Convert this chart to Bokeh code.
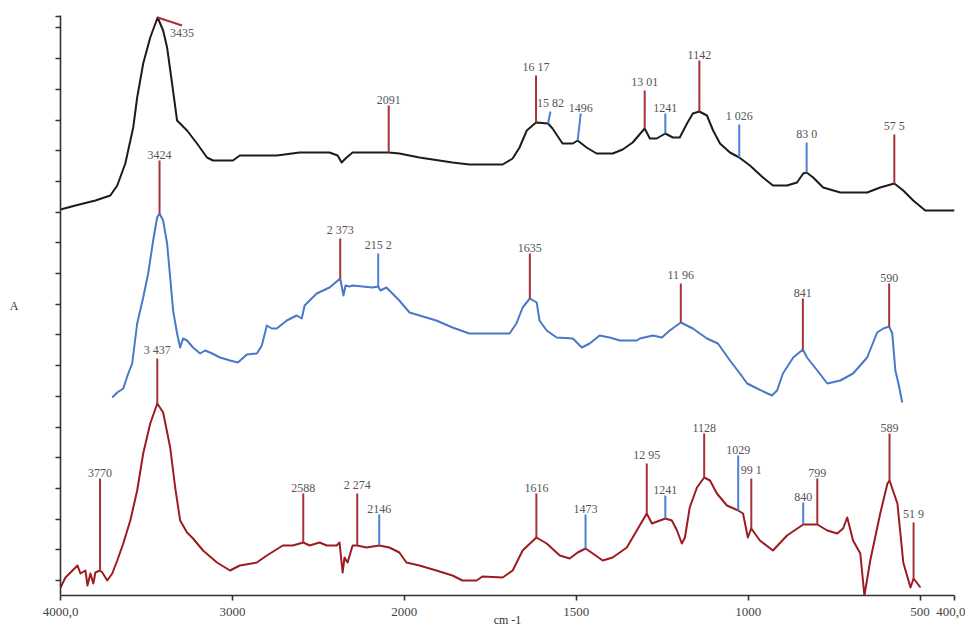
import numpy as np
from bokeh.plotting import figure
from bokeh.models import Range1d, FixedTicker, ColumnDataSource
from bokeh.core.properties import value
from bokeh.embed import file_html
from bokeh.resources import INLINE

# ---------------- data (wavenumber cm-1, absorbance A, offset stacked) ----------------
BLACK_WN = [4000, 3913, 3797, 3710, 3670, 3623, 3577, 3554, 3519, 3478, 3435, 3403, 3380, 3351,
            3322, 3264, 3206, 3148, 3113, 2997, 2957, 2742, 2609, 2435, 2388, 2365, 2336, 2301,
            2091, 2029, 1956, 1860, 1811, 1714, 1685, 1665, 1644, 1617, 1582, 1569, 1540, 1510,
            1496, 1470, 1441, 1394, 1365, 1336, 1301, 1286, 1266, 1241, 1219, 1199, 1178, 1161,
            1142, 1120, 1102, 1082, 1053, 1026, 995, 957, 928, 887, 858, 840, 830, 811, 782,
            732, 654, 616, 575, 549, 520, 485, 400]
BLACK_A = [3.86, 3.90, 3.95, 4.00, 4.10, 4.32, 4.68, 4.98, 5.32, 5.58, 5.78, 5.65, 5.48, 5.12,
           4.75, 4.65, 4.52, 4.38, 4.35, 4.35, 4.40, 4.40, 4.43, 4.43, 4.40, 4.33, 4.38, 4.43,
           4.43, 4.42, 4.38, 4.33, 4.31, 4.31, 4.37, 4.48, 4.65, 4.73, 4.72, 4.67, 4.52, 4.52,
           4.55, 4.48, 4.42, 4.42, 4.46, 4.53, 4.67, 4.57, 4.57, 4.62, 4.58, 4.58, 4.72, 4.82,
           4.84, 4.80, 4.65, 4.52, 4.43, 4.38, 4.30, 4.18, 4.10, 4.10, 4.13, 4.22, 4.23, 4.18,
           4.08, 4.03, 4.03, 4.08, 4.12, 4.05, 3.95, 3.85, 3.85]

BLUE_WN = [3699, 3670, 3635, 3606, 3583, 3554, 3519, 3490, 3461, 3438, 3424, 3403, 3380, 3362,
           3345, 3322, 3304, 3287, 3264, 3229, 3188, 3159, 3130, 3072, 3014, 2968, 2916, 2858,
           2829, 2800, 2771, 2742, 2684, 2626, 2597, 2580, 2510, 2435, 2373, 2354, 2342, 2319,
           2301, 2186, 2152, 2139, 2104, 2029, 1985, 1956, 1907, 1860, 1811, 1761, 1694, 1674,
           1656, 1635, 1615, 1607, 1586, 1557, 1510, 1484, 1461, 1432, 1403, 1373, 1324, 1315,
           1277, 1251, 1228, 1196, 1161, 1120, 1088, 1053, 1024, 1003, 974, 931, 916, 899, 869,
           841, 829, 799, 770, 732, 695, 654, 625, 607, 590, 581, 572, 563, 552]
BLUE_A = [1.98, 2.03, 2.07, 2.22, 2.32, 2.72, 2.98, 3.22, 3.55, 3.78, 3.82, 3.75, 3.52, 3.18,
          2.85, 2.62, 2.48, 2.57, 2.55, 2.48, 2.42, 2.45, 2.43, 2.38, 2.35, 2.33, 2.41, 2.42,
          2.50, 2.70, 2.67, 2.67, 2.75, 2.80, 2.77, 2.90, 3.02, 3.08, 3.17, 3.00, 3.10, 3.09,
          3.10, 3.08, 3.09, 3.05, 3.08, 2.95, 2.83, 2.80, 2.75, 2.68, 2.62, 2.62, 2.62, 2.72,
          2.88, 2.97, 2.93, 2.75, 2.65, 2.58, 2.57, 2.48, 2.52, 2.60, 2.58, 2.55, 2.55, 2.57,
          2.60, 2.58, 2.65, 2.73, 2.67, 2.57, 2.52, 2.35, 2.22, 2.12, 2.07, 2.00, 2.05, 2.22, 2.38,
          2.46, 2.38, 2.25, 2.12, 2.15, 2.22, 2.38, 2.63, 2.67, 2.69, 2.62, 2.25, 2.12, 1.93]

RED_WN = [4000, 3971, 3942, 3901, 3884, 3855, 3843, 3826, 3809, 3797, 3770, 3757, 3728, 3699,
          3670, 3635, 3594, 3554, 3519, 3478, 3437, 3403, 3362, 3333, 3304, 3264, 3229, 3171,
          3090, 3014, 2957, 2858, 2800, 2707, 2649, 2588, 2551, 2493, 2452, 2394, 2377, 2359,
          2348, 2330, 2301, 2274, 2220, 2146, 2087, 2029, 1994, 1956, 1907, 1860, 1831, 1790,
          1773, 1714, 1685, 1656, 1616, 1586, 1548, 1519, 1496, 1473, 1452, 1423, 1394, 1353,
          1324, 1295, 1280, 1241, 1222, 1207, 1193, 1184, 1170, 1149, 1128, 1111, 1091, 1062,
          1029, 1015, 1001, 991, 966, 928, 887, 840, 799, 770, 741, 724, 712, 695, 674, 662,
          645, 616, 595, 589, 566, 549, 528, 519, 499]
RED_A = [0.08, 0.18, 0.23, 0.30, 0.22, 0.25, 0.10, 0.22, 0.12, 0.23, 0.25, 0.23, 0.15, 0.22,
         0.35, 0.52, 0.75, 1.05, 1.42, 1.72, 1.92, 1.83, 1.48, 1.08, 0.75, 0.63, 0.57, 0.45,
         0.33, 0.25, 0.30, 0.33, 0.40, 0.50, 0.50, 0.53, 0.50, 0.53, 0.50, 0.50, 0.53, 0.23,
         0.38, 0.33, 0.50, 0.50, 0.48, 0.50, 0.48, 0.43, 0.33, 0.30, 0.25, 0.20, 0.15, 0.15,
         0.19, 0.18, 0.25, 0.45, 0.58, 0.52, 0.40, 0.37, 0.43, 0.47, 0.42, 0.35, 0.38, 0.48,
         0.65, 0.82, 0.72, 0.77, 0.75, 0.65, 0.52, 0.58, 0.88, 1.08, 1.18, 1.15, 1.02, 0.90,
         0.85, 0.82, 0.58, 0.67, 0.55, 0.45, 0.60, 0.71, 0.71, 0.65, 0.62, 0.67, 0.78, 0.55,
         0.42, 0.00, 0.35, 0.82, 1.12, 1.15, 0.92, 0.33, 0.08, 0.17, 0.08]

# peak annotations
BLACK_PEAKS = [3435, 2091, 1617, 1582, 1496, 1301, 1241, 1142, 1026, 830, 575]
BLACK_LABELS = ["3435", "2091", "16 17", "15 82", "1496", "13 01", "1241", "1142", "1 026", "83 0", "57 5"]
BLACK_KIND = ["r", "r", "r", "b", "b", "r", "b", "r", "b", "b", "r"]
BLACK_TIP_WN = [3293, 2091, 1617, 1575, 1487, 1301, 1241, 1142, 1026, 830, 575]
BLACK_TIP_A = [5.70, 4.90, 5.20, 4.84, 4.82, 5.05, 4.82, 5.35, 4.71, 4.53, 4.61]
BLACK_BELOW = [True, False, False, False, False, False, False, False, False, False, False]

BLUE_PEAKS = [3424, 2373, 2152, 1635, 1196, 841, 590]
BLUE_LABELS = ["3424", "2 373", "215 2", "1635", "11 96", "841", "590"]
BLUE_KIND = ["r", "r", "b", "r", "r", "r", "r"]
BLUE_TIP_WN = BLUE_PEAKS
BLUE_TIP_A = [4.35, 3.57, 3.42, 3.42, 3.12, 2.97, 3.12]
BLUE_BELOW = [False] * 7

RED_PEAKS = [3770, 3437, 2588, 2274, 2146, 1616, 1473, 1295, 1241, 1128, 1029, 991, 840, 799, 589, 519]
RED_LABELS = ["3770", "3 437", "2588", "2 274", "2146", "1616", "1473", "12 95", "1241", "1128",
              "1029", "99 1", "840", "799", "589", "51 9"]
RED_KIND = ["r", "r", "r", "r", "b", "r", "b", "r", "b", "r", "b", "r", "b", "r", "r", "r"]
RED_TIP_WN = RED_PEAKS
RED_TIP_A = [1.17, 2.37, 1.02, 1.02, 0.81, 1.02, 0.81, 1.32, 1.00, 1.62, 1.40, 1.17, 0.93, 1.17, 1.62, 0.73]
RED_BELOW = [False] * 16

X_TICKS = [4000, 3000, 2000, 1500, 1000, 500, 400]
X_TICK_LABELS = ["4000,0", "3000", "2000", "1500", "1000", "500", "400,0"]

# ---------------- styling ----------------
CURVE_COLORS = {"black": "#1c1c1c", "blue": "#4a78c8", "red": "#9c1c22"}
MARK_COLORS = {"r": "#a8323a", "b": "#4d80d4"}
FONT = "Liberation Serif"


def to_u(w):
    """Instrument-style wavenumber axis: scale doubles below 2000 cm-1."""
    w = np.asarray(w, dtype=float)
    return np.where(w >= 2000, 4000 - w, 2000 + 2 * (2000 - w))


p = figure(width=965, height=630, x_range=Range1d(0, 5200), y_range=Range1d(0, 5.8),
           output_backend="svg", toolbar_location=None,
           min_border_left=60, min_border_right=11, min_border_top=15, min_border_bottom=35)
p.grid.visible = False
p.outline_line_color = None
p.background_fill_color = "white"

# axes
p.xaxis.ticker = FixedTicker(ticks=[int(v) for v in to_u(X_TICKS)])
p.xaxis.major_label_overrides = {int(u): lab for u, lab in zip(to_u(X_TICKS), X_TICK_LABELS)}
p.yaxis.ticker = FixedTicker(ticks=[round(0.15 + 0.307 * k, 3) for k in range(19)] + [5.79])
for ax in (p.xaxis, p.yaxis):
    ax.axis_line_color = "#333333"
    ax.axis_line_width = 1.6
    ax.major_tick_line_color = "#333333"
    ax.major_tick_line_width = 1.6
    ax.major_tick_in = 0
    ax.major_tick_out = 5
    ax.minor_tick_line_color = None
    ax.axis_label_text_font = FONT
    ax.axis_label_text_font_style = "normal"
    ax.axis_label_text_color = "#333333"
    ax.axis_label_text_font_size = "12px"
p.xaxis.major_label_text_font = FONT
p.xaxis.major_label_text_font_size = "13px"
p.xaxis.major_label_text_color = "#444444"
p.xaxis.major_label_standoff = 7
p.xaxis.axis_label = "cm -1"
p.xaxis.axis_label_standoff = -6
p.yaxis.major_label_text_font_size = "0px"
p.yaxis.major_label_text_alpha = 0
p.yaxis.axis_label = "A"
p.yaxis.axis_label_orientation = "horizontal"
p.yaxis.axis_label_standoff = 37

spectra = [
    ("black", BLACK_WN, BLACK_A, BLACK_PEAKS, BLACK_LABELS, BLACK_KIND, BLACK_TIP_WN, BLACK_TIP_A, BLACK_BELOW),
    ("blue", BLUE_WN, BLUE_A, BLUE_PEAKS, BLUE_LABELS, BLUE_KIND, BLUE_TIP_WN, BLUE_TIP_A, BLUE_BELOW),
    ("red", RED_WN, RED_A, RED_PEAKS, RED_LABELS, RED_KIND, RED_TIP_WN, RED_TIP_A, RED_BELOW),
]

for name, wn, a, peaks, labels, kind, tip_wn, tip_a, below in spectra:
    p.line(to_u(wn), a, line_color=CURVE_COLORS[name], line_width=2, line_join="round")

for name, wn, a, peaks, labels, kind, tip_wn, tip_a, below in spectra:
    wn_arr = np.asarray(wn, float)
    base = np.interp(np.asarray(peaks, float), wn_arr[::-1], np.asarray(a, float)[::-1])
    seg = ColumnDataSource(dict(x0=to_u(peaks), y0=base, x1=to_u(tip_wn), y1=tip_a,
                                c=[MARK_COLORS[k] for k in kind]))
    p.segment(x0="x0", y0="y0", x1="x1", y1="y1", line_color="c", line_width=2, source=seg)
    up = [i for i in range(len(peaks)) if not below[i]]
    dn = [i for i in range(len(peaks)) if below[i]]
    for idx, baseline, dy in ((up, "bottom", 0.02), (dn, "top", -0.03)):
        if not idx:
            continue
        src = ColumnDataSource(dict(x=to_u([tip_wn[i] for i in idx]),
                                    y=[tip_a[i] + dy for i in idx],
                                    t=[labels[i] for i in idx]))
        p.text(x="x", y="y", text="t", source=src, text_font=value(FONT),
               text_font_size=value("12px"), text_color="#555555",
               text_align="center", text_baseline=baseline)

open("out.html", "w").write(file_html(p, INLINE))
